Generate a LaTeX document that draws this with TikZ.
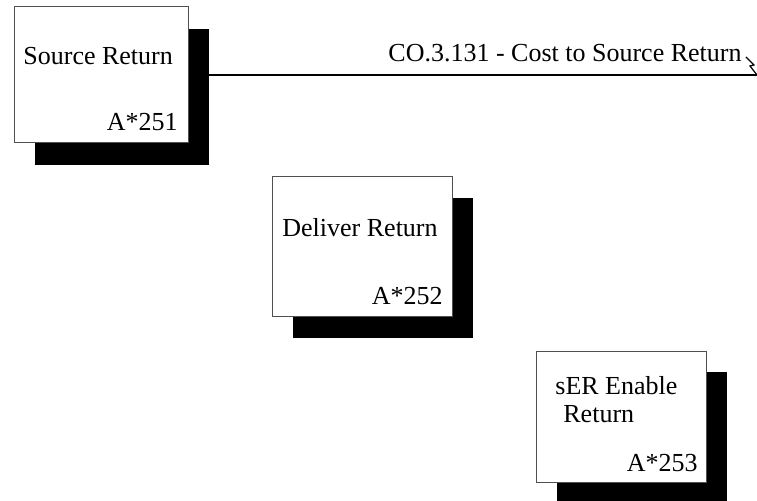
\documentclass[tikz,border=0pt]{standalone}
\usepackage{fontspec}
\setmainfont{Liberation Serif}
\usepackage{tikz}
\usetikzlibrary{arrows.meta, positioning, calc}
\usepackage{xcolor}
\definecolor{boxline}{HTML}{505050}

\begin{document}
\begin{tikzpicture}[
    x=0.5pt, y=-0.5pt,
    actbox/.style={draw=boxline, line width=0.5pt, fill=white,
                   inner sep=0pt},
    shadowbox/.style={fill=black, inner sep=0pt},
    txt/.style={inner sep=0pt, font=\fontsize{13}{15}\selectfont},
    flow/.style={line width=0.6pt, black}
  ]
    \useasboundingbox (0,0) rectangle (757,501);
    % Source Return
    \node[shadowbox, minimum width=87pt, minimum height=68pt] (S1sh) at (122,97) {};
    \node[actbox, minimum width=87pt, minimum height=68pt] (S1) at (101,75) {};
    \node[txt, anchor=base west] (S1t) at (23,65) {Source Return};
    \node[txt, anchor=base east] (S1n) at (178,131) {A*251};
    % Deliver Return
    \node[shadowbox, minimum width=90pt, minimum height=70pt] (D1sh) at (383,268) {};
    \node[actbox, minimum width=90pt, minimum height=70pt] (D1) at (362,247) {};
    \node[txt, anchor=base west] (D1t) at (282,237) {Deliver Return};
    \node[txt, anchor=base east] (D1n) at (443,305) {A*252};
    % sER Enable Return
    \node[shadowbox, minimum width=85pt, minimum height=65.5pt] (E1sh) at (642,438) {};
    \node[actbox, minimum width=85pt, minimum height=65.5pt] (E1) at (621,417.5) {};
    \node[txt, anchor=base west] (E1t) at (555,395) {sER Enable};
    \node[txt, anchor=base west] (E1r) at (563,423) {Return};
    \node[txt, anchor=base east] (E1n) at (698,472) {A*253};
    % cost output
    \coordinate (tip) at (757,75);
    \draw[flow] (S1.east -| S1sh.east) -- (tip);
    \draw[flow] (746,57) -- (754,65) -- (750,66) -- (tip);
    \node[txt, anchor=base east] (cost) at (742,62)
      {CO.3.131 - Cost to Source Return};
  \end{tikzpicture}
\end{document}
